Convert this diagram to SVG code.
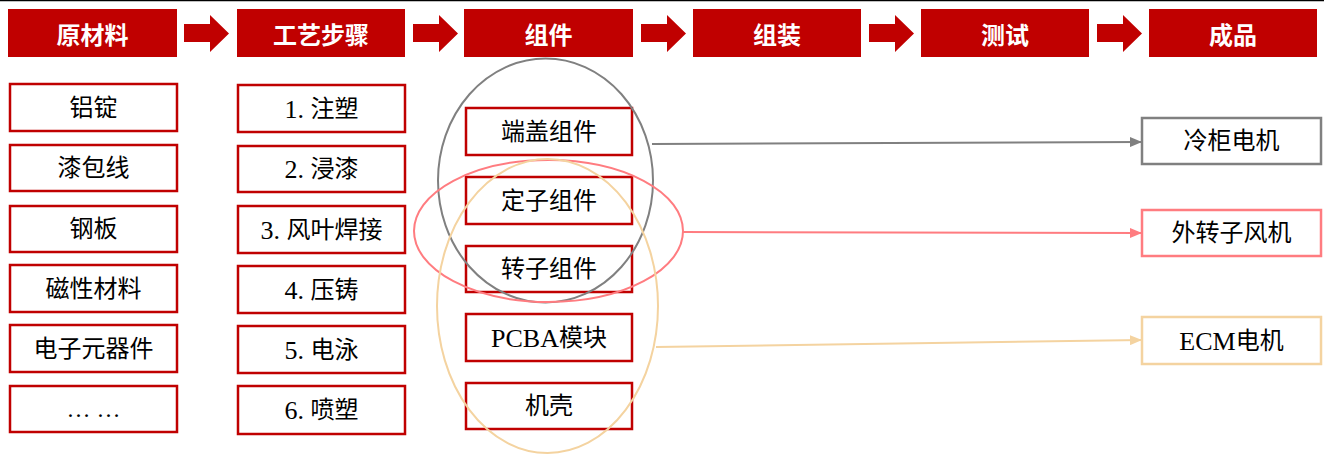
<svg xmlns="http://www.w3.org/2000/svg" width="1324" height="454" viewBox="0 0 1324 454">
<defs>
<style>
.hdr rect{fill:#C00000}
.hdr text{fill:#fff;font-family:"Noto Sans CJK SC","Noto Sans",sans-serif;font-weight:bold;font-size:24px;text-anchor:middle;dominant-baseline:central}
.harrow{fill:#C00000}
.box rect{fill:#fff;stroke:#C00000;stroke-width:2.5}
.box text,.out text{fill:#000;font-family:"Liberation Serif","Noto Sans CJK SC",serif;font-size:24px;text-anchor:middle;dominant-baseline:central}
.lat{font-size:26px}
.out rect{fill:#fff;stroke-width:2.5}
.ell{fill:none;stroke-width:2}
.conn{fill:none;stroke-width:2}
</style>
<marker id="mg" viewBox="0 0 12 10" refX="12" refY="5" markerWidth="12" markerHeight="10" markerUnits="userSpaceOnUse" orient="auto"><path d="M0,0L12,5L0,10z" fill="#808080"/></marker>
<marker id="mr" viewBox="0 0 12 10" refX="12" refY="5" markerWidth="12" markerHeight="10" markerUnits="userSpaceOnUse" orient="auto"><path d="M0,0L12,5L0,10z" fill="#FF7C80"/></marker>
<marker id="mt" viewBox="0 0 12 10" refX="12" refY="5" markerWidth="12" markerHeight="10" markerUnits="userSpaceOnUse" orient="auto"><path d="M0,0L12,5L0,10z" fill="#F4D3A0"/></marker>
</defs>
<rect x="0" y="0" width="1324" height="454" fill="#fff"/>
<line x1="0" y1="0.5" x2="1324" y2="0.5" stroke="#000" stroke-width="1.5"/>

<g id="header">
<g id="h1" class="hdr"><rect x="8" y="9" width="169" height="48"/><text x="92.5" y="33.5">原材料</text></g>
<g id="h2" class="hdr"><rect x="237" y="9" width="168" height="48"/><text x="321" y="33.5">工艺步骤</text></g>
<g id="h3" class="hdr"><rect x="464" y="9" width="169" height="48"/><text x="548.5" y="33.5">组件</text></g>
<g id="h4" class="hdr"><rect x="693" y="9" width="168" height="48"/><text x="777" y="33.5">组装</text></g>
<g id="h5" class="hdr"><rect x="921" y="9" width="168" height="48"/><text x="1005" y="33.5">测试</text></g>
<g id="h6" class="hdr"><rect x="1149" y="9" width="168" height="48"/><text x="1233" y="33.5">成品</text></g>
<polygon class="harrow" points="184,24 210,24 210,15 229,33.5 210,52 210,42 184,42"/>
<polygon class="harrow" points="413,24 439,24 439,15 458,33.5 439,52 439,42 413,42"/>
<polygon class="harrow" points="641,24 667,24 667,15 686,33.5 667,52 667,42 641,42"/>
<polygon class="harrow" points="869,24 895,24 895,15 914,33.5 895,52 895,42 869,42"/>
<polygon class="harrow" points="1097,24 1123,24 1123,15 1142,33.5 1123,52 1123,42 1097,42"/>
</g>

<g id="raw">
<g id="r1" class="box"><rect x="10" y="84" width="167" height="47"/><text x="93.5" y="107.5">铝锭</text></g>
<g id="r2" class="box"><rect x="10" y="145" width="167" height="46"/><text x="93.5" y="168">漆包线</text></g>
<g id="r3" class="box"><rect x="10" y="206" width="167" height="46"/><text x="93.5" y="229">钢板</text></g>
<g id="r4" class="box"><rect x="10" y="265" width="167" height="47"/><text x="93.5" y="288.5">磁性材料</text></g>
<g id="r5" class="box"><rect x="10" y="325" width="167" height="47"/><text x="93.5" y="348.5">电子元器件</text></g>
<g id="r6" class="box"><rect x="10" y="386" width="167" height="46"/><text x="93.5" y="409">… …</text></g>
</g>

<g id="steps">
<g id="s1" class="box"><rect x="238" y="85" width="167" height="47"/><text x="321.5" y="108.5"><tspan class="lat">1. </tspan>注塑</text></g>
<g id="s2" class="box"><rect x="238" y="146" width="167" height="46"/><text x="321.5" y="169"><tspan class="lat">2. </tspan>浸漆</text></g>
<g id="s3" class="box"><rect x="238" y="206" width="167" height="47"/><text x="321.5" y="229.5"><tspan class="lat">3. </tspan>风叶焊接</text></g>
<g id="s4" class="box"><rect x="238" y="266" width="167" height="47"/><text x="321.5" y="289.5"><tspan class="lat">4. </tspan>压铸</text></g>
<g id="s5" class="box"><rect x="238" y="326" width="167" height="47"/><text x="321.5" y="349.5"><tspan class="lat">5. </tspan>电泳</text></g>
<g id="s6" class="box"><rect x="238" y="386" width="167" height="48"/><text x="321.5" y="410"><tspan class="lat">6. </tspan>喷塑</text></g>
</g>

<g id="parts">
<g id="p1" class="box"><rect x="466" y="108" width="166" height="47"/><text x="549" y="131.5">端盖组件</text></g>
<g id="p2" class="box"><rect x="466" y="177" width="166" height="47"/><text x="549" y="200.5">定子组件</text></g>
<g id="p3" class="box"><rect x="466" y="246" width="166" height="46"/><text x="549" y="269">转子组件</text></g>
<g id="p4" class="box"><rect x="466" y="314" width="166" height="47"/><text x="549" y="337.5"><tspan class="lat">PCBA</tspan>模块</text></g>
<g id="p5" class="box"><rect x="466" y="383" width="166" height="46"/><text x="549" y="406">机壳</text></g>
</g>

<g id="groups">
<ellipse id="e-gray" class="ell" cx="545.5" cy="180.5" rx="107.5" ry="122" stroke="#808080"/>
<ellipse id="e-red" class="ell" cx="548.5" cy="231" rx="134.5" ry="71" stroke="#FF7C80"/>
<ellipse id="e-tan" class="ell" cx="547.5" cy="306" rx="110.5" ry="147" stroke="#F4D3A0"/>
</g>

<g id="connectors">
<line class="conn" x1="652" y1="144" x2="1142" y2="142" stroke="#808080" marker-end="url(#mg)"/>
<line class="conn" x1="683" y1="232" x2="1142" y2="233" stroke="#FF7C80" marker-end="url(#mr)"/>
<line class="conn" x1="656" y1="347" x2="1142" y2="340" stroke="#F4D3A0" marker-end="url(#mt)"/>
</g>

<g id="outputs">
<g id="o1" class="out"><rect x="1142" y="118" width="179" height="46" stroke="#808080"/><text x="1231.5" y="141">冷柜电机</text></g>
<g id="o2" class="out"><rect x="1142" y="210" width="179" height="46" stroke="#FF7C80"/><text x="1231.5" y="233">外转子风机</text></g>
<g id="o3" class="out"><rect x="1142" y="317" width="179" height="47" stroke="#F4D3A0"/><text x="1231.5" y="340.5"><tspan class="lat">ECM</tspan>电机</text></g>
</g>
</svg>
